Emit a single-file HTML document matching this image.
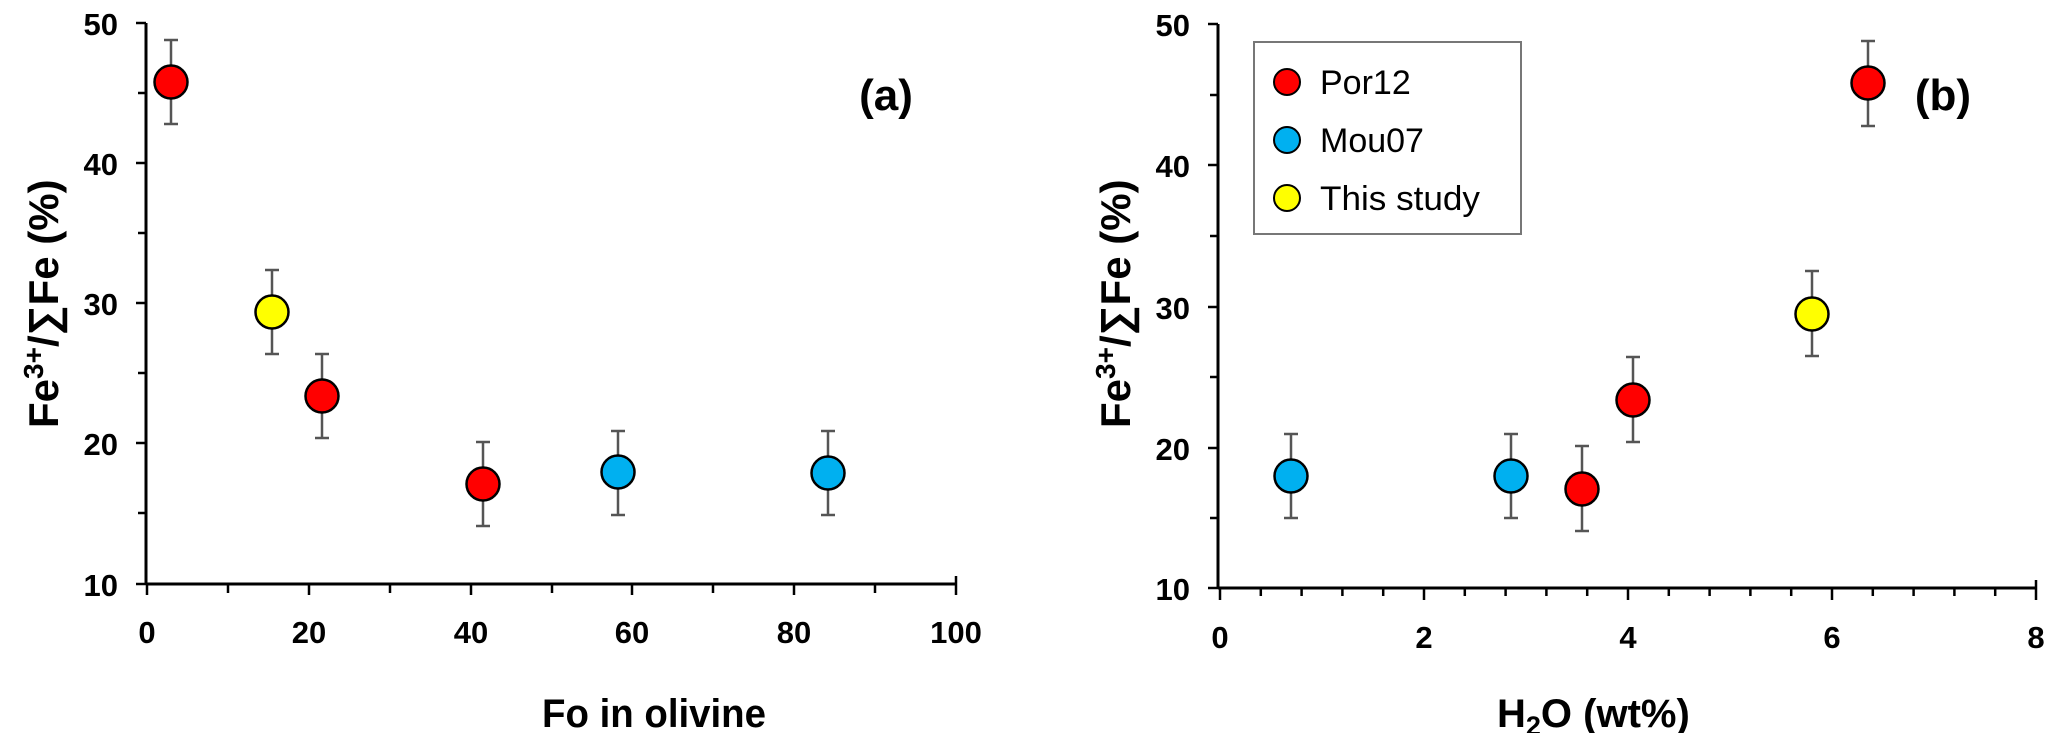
<!DOCTYPE html>
<html><head><meta charset="utf-8"><style>
html,body{margin:0;padding:0;background:#fff;}
svg{display:block;}
text{font-family:"Liberation Sans",sans-serif;font-weight:bold;fill:#000;}
</style></head><body>
<svg width="2067" height="733" viewBox="0 0 2067 733" xmlns="http://www.w3.org/2000/svg">
<g stroke="#000" stroke-width="3" fill="none">
<line x1="146" y1="23" x2="146" y2="584"/>
<line x1="146" y1="584" x2="956" y2="584"/>
<line x1="1218" y1="24" x2="1218" y2="588"/>
<line x1="1218" y1="588" x2="2036" y2="588"/>
</g>
<g stroke="#000" stroke-width="2.5">
<line x1="136" y1="23" x2="146" y2="23"/><line x1="138" y1="93" x2="146" y2="93"/>
<line x1="136" y1="163" x2="146" y2="163"/><line x1="138" y1="233" x2="146" y2="233"/>
<line x1="136" y1="303" x2="146" y2="303"/><line x1="138" y1="373" x2="146" y2="373"/>
<line x1="136" y1="443" x2="146" y2="443"/><line x1="138" y1="513" x2="146" y2="513"/>
<line x1="136" y1="584" x2="146" y2="584"/>
<line x1="147" y1="584" x2="147" y2="595"/><line x1="228" y1="584" x2="228" y2="593"/>
<line x1="309" y1="584" x2="309" y2="595"/><line x1="390" y1="584" x2="390" y2="593"/>
<line x1="471" y1="584" x2="471" y2="595"/><line x1="552" y1="584" x2="552" y2="593"/>
<line x1="632" y1="584" x2="632" y2="595"/><line x1="713" y1="584" x2="713" y2="593"/>
<line x1="794" y1="584" x2="794" y2="595"/><line x1="875" y1="584" x2="875" y2="593"/>
<line x1="956" y1="576" x2="956" y2="595"/>
<line x1="1208" y1="24" x2="1218" y2="24"/><line x1="1210" y1="95" x2="1218" y2="95"/>
<line x1="1208" y1="165" x2="1218" y2="165"/><line x1="1210" y1="236" x2="1218" y2="236"/>
<line x1="1208" y1="307" x2="1218" y2="307"/><line x1="1210" y1="377" x2="1218" y2="377"/>
<line x1="1208" y1="448" x2="1218" y2="448"/><line x1="1210" y1="518" x2="1218" y2="518"/>
<line x1="1208" y1="588" x2="1218" y2="588"/>
<line x1="1220" y1="588" x2="1220" y2="600"/>
<line x1="1260.8" y1="588" x2="1260.8" y2="596"/><line x1="1301.6" y1="588" x2="1301.6" y2="596"/>
<line x1="1342.4" y1="588" x2="1342.4" y2="596"/><line x1="1383.2" y1="588" x2="1383.2" y2="596"/>
<line x1="1424" y1="588" x2="1424" y2="600"/>
<line x1="1464.8" y1="588" x2="1464.8" y2="596"/><line x1="1505.6" y1="588" x2="1505.6" y2="596"/>
<line x1="1546.4" y1="588" x2="1546.4" y2="596"/><line x1="1587.2" y1="588" x2="1587.2" y2="596"/>
<line x1="1628" y1="588" x2="1628" y2="600"/>
<line x1="1668.8" y1="588" x2="1668.8" y2="596"/><line x1="1709.6" y1="588" x2="1709.6" y2="596"/>
<line x1="1750.4" y1="588" x2="1750.4" y2="596"/><line x1="1791.2" y1="588" x2="1791.2" y2="596"/>
<line x1="1832" y1="588" x2="1832" y2="600"/>
<line x1="1872.8" y1="588" x2="1872.8" y2="596"/><line x1="1913.6" y1="588" x2="1913.6" y2="596"/>
<line x1="1954.4" y1="588" x2="1954.4" y2="596"/><line x1="1995.2" y1="588" x2="1995.2" y2="596"/>
<line x1="2036" y1="580" x2="2036" y2="600"/>
</g>
<g font-size="31" text-anchor="end">
<text x="118" y="35">50</text><text x="118" y="175">40</text><text x="118" y="315">30</text><text x="118" y="455">20</text><text x="118" y="596">10</text>
<text x="1190" y="36">50</text><text x="1190" y="177">40</text><text x="1190" y="319">30</text><text x="1190" y="460">20</text><text x="1190" y="600">10</text>
</g>
<g font-size="31" text-anchor="middle">
<text x="147" y="643">0</text><text x="309" y="643">20</text><text x="471" y="643">40</text><text x="632" y="643">60</text><text x="794" y="643">80</text><text x="956" y="643">100</text>
<text x="1220" y="648">0</text><text x="1424" y="648">2</text><text x="1628" y="648">4</text><text x="1832" y="648">6</text><text x="2036" y="648">8</text>
</g>
<text x="542" y="727" font-size="40" textLength="224" lengthAdjust="spacingAndGlyphs">Fo in olivine</text>
<text x="1497" y="727" font-size="40">H<tspan font-size="27" dy="8">2</tspan><tspan dy="-8">O (wt%)</tspan></text>
<text transform="translate(58,428) rotate(-90)" font-size="42">Fe<tspan font-size="28" dy="-15">3+</tspan><tspan dy="15">/∑Fe (%)</tspan></text>
<text transform="translate(1130,428) rotate(-90)" font-size="42">Fe<tspan font-size="28" dy="-15">3+</tspan><tspan dy="15">/∑Fe (%)</tspan></text>
<text x="886" y="110" font-size="44" text-anchor="middle">(a)</text>
<text x="1943" y="110" font-size="44" text-anchor="middle">(b)</text>
<rect x="1254" y="42" width="267" height="192" fill="#fff" stroke="#777" stroke-width="2"/>
<g stroke="#000" stroke-width="2">
<circle cx="1287" cy="82" r="13" fill="#ff0000"/>
<circle cx="1287" cy="140" r="13" fill="#00b0f0"/>
<circle cx="1287" cy="198" r="13" fill="#ffff00"/>
</g>
<g font-size="34" style="font-weight:normal">
<text x="1320" y="94" style="font-weight:normal">Por12</text>
<text x="1320" y="152" style="font-weight:normal">Mou07</text>
<text x="1320" y="210" style="font-weight:normal" textLength="160" lengthAdjust="spacingAndGlyphs">This study</text>
</g>
<g stroke="#555" stroke-width="2.5" fill="none">
<path d="M171 40V124M164 40H178M164 124H178"/>
<path d="M272 270V354M265 270H279M265 354H279"/>
<path d="M322 354V438M315 354H329M315 438H329"/>
<path d="M483 442V526M476 442H490M476 526H490"/>
<path d="M618 431V515M611 431H625M611 515H625"/>
<path d="M828 431V515M821 431H835M821 515H835"/>
<path d="M1291 434V518M1284 434H1298M1284 518H1298"/>
<path d="M1511 434V518M1504 434H1518M1504 518H1518"/>
<path d="M1582 446V531M1575 446H1589M1575 531H1589"/>
<path d="M1633 357V442M1626 357H1640M1626 442H1640"/>
<path d="M1812 271V356M1805 271H1819M1805 356H1819"/>
<path d="M1868 41V126M1861 41H1875M1861 126H1875"/>
</g>
<g stroke="#000" stroke-width="2.5">
<circle cx="171" cy="82" r="16.5" fill="#ff0000"/>
<circle cx="272" cy="312" r="16.5" fill="#ffff00"/>
<circle cx="322" cy="396" r="16.5" fill="#ff0000"/>
<circle cx="483" cy="484" r="16.5" fill="#ff0000"/>
<circle cx="618" cy="472" r="16.5" fill="#00b0f0"/>
<circle cx="828" cy="473" r="16.5" fill="#00b0f0"/>
<circle cx="1291" cy="476" r="16.5" fill="#00b0f0"/>
<circle cx="1511" cy="476" r="16.5" fill="#00b0f0"/>
<circle cx="1582" cy="489" r="16.5" fill="#ff0000"/>
<circle cx="1633" cy="400" r="16.5" fill="#ff0000"/>
<circle cx="1812" cy="314" r="16.5" fill="#ffff00"/>
<circle cx="1868" cy="83" r="16.5" fill="#ff0000"/>
</g>
</svg>
</body></html>
